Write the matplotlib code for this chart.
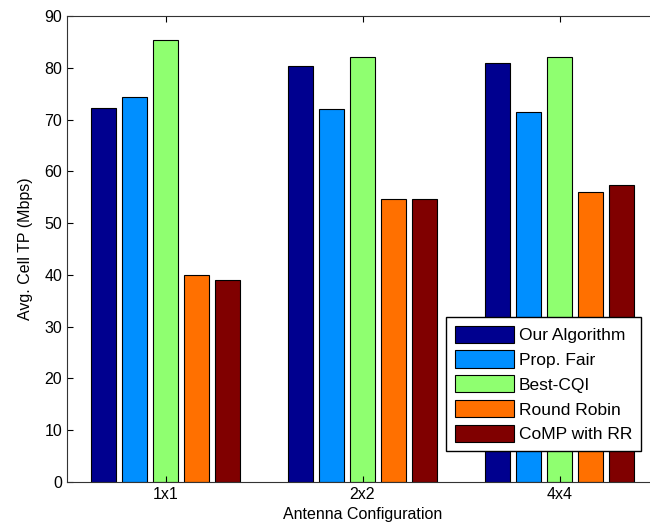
import matplotlib.pyplot as plt
import numpy as np

plt.rcParams['font.family'] = ['Liberation Sans', 'DejaVu Sans']

# --- data ---
configs = ['1x1', '2x2', '4x4']
schemes = ['Our Algorithm', 'Prop. Fair', 'Best-CQI', 'Round Robin', 'CoMP with RR']
our_algorithm = [72.3, 80.4, 80.9]
prop_fair = [74.4, 72.0, 71.5]
best_cqi = [85.4, 82.0, 82.0]
round_robin = [40.0, 54.6, 56.0]
comp_rr = [39.0, 54.6, 57.3]
series = [our_algorithm, prop_fair, best_cqi, round_robin, comp_rr]

# jet-like colours, like MATLAB's default bar colours
colors = ['#00008f', '#008fff', '#8fff70', '#ff7000', '#800000']

fig = plt.figure(figsize=(6.5, 5.31), dpi=100)
# axes runs a bit past the right edge, like the cropped original
ax = fig.add_axes([67 / 650, 1 - 482 / 531, 591 / 650, 466 / 531])

x = np.arange(1, len(configs) + 1)
step = 0.157
width = 0.127
for i, (vals, name) in enumerate(zip(series, schemes)):
    ax.bar(x + (i - 2) * step, vals, width, color=colors[i],
           edgecolor='black', linewidth=0.8, label=name)

ax.set_xlim(0.5, 3.5)
ax.set_ylim(0, 90)
ax.set_yticks(np.arange(0, 91, 10))
ax.set_xticks(x)
ax.set_xticklabels(configs)
ax.tick_params(direction='in', top=True, right=True, labelsize=11.5, length=4)
for s in ax.spines.values():
    s.set_color('#333333')

ax.set_xlabel('Antenna Configuration', fontsize=11.5, labelpad=4)
ax.set_ylabel('Avg. Cell TP (Mbps)', fontsize=11.5, labelpad=8)

leg = ax.legend(loc='lower right', bbox_to_anchor=(641 / 650, 1 - 451 / 531),
                bbox_transform=fig.transFigure, fontsize=12.5,
                handlelength=3.4, handleheight=1.15, labelspacing=0.42,
                handletextpad=0.3, borderpad=0.5, borderaxespad=0,
                fancybox=False, framealpha=1)
leg.get_frame().set_edgecolor('black')
leg.get_frame().set_linewidth(1)

plt.savefig('out.png', dpi=100)
